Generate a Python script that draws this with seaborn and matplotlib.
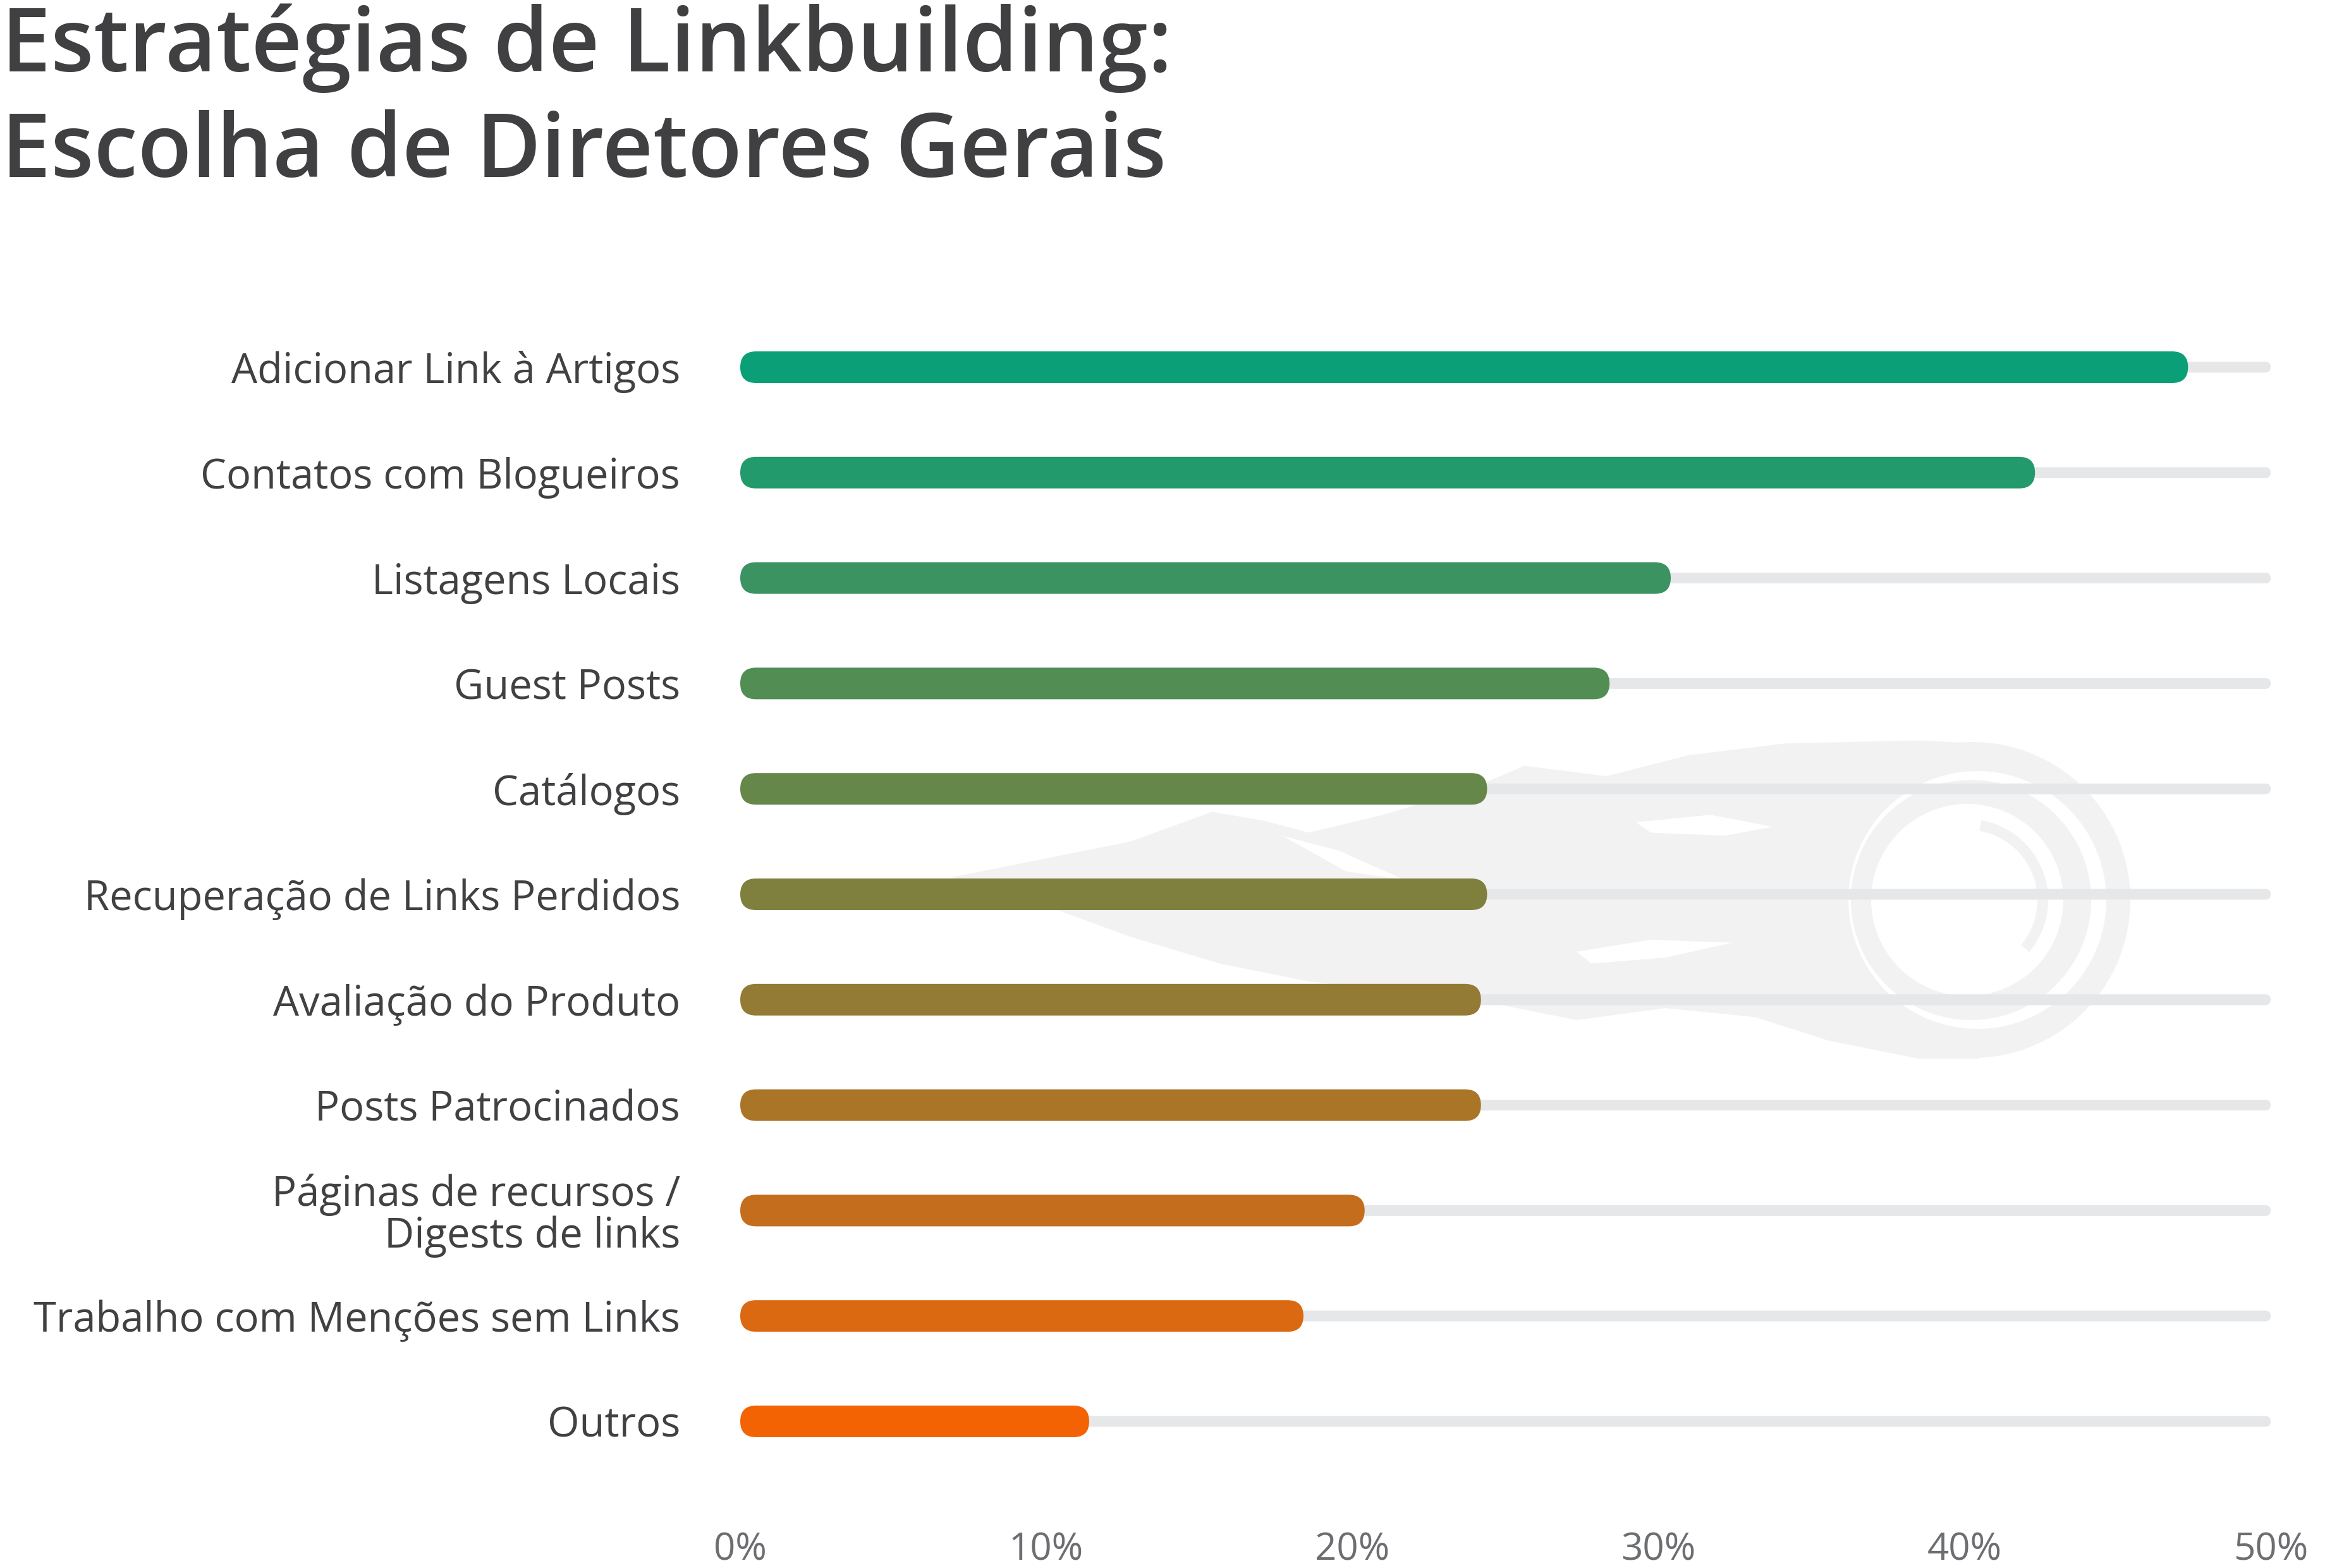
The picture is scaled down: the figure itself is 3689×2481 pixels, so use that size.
import matplotlib
matplotlib.use("Agg")
import matplotlib.pyplot as plt
import seaborn as sns
import numpy as np
from matplotlib.patches import FancyBboxPatch, Circle, Wedge, Polygon

# ---------------- data ----------------
categories = [
    "Adicionar Link à Artigos",
    "Contatos com Blogueiros",
    "Listagens Locais",
    "Guest Posts",
    "Catálogos",
    "Recuperação de Links Perdidos",
    "Avaliação do Produto",
    "Posts Patrocinados",
    "Páginas de recursos /\nDigests de links",
    "Trabalho com Menções sem Links",
    "Outros",
]
values = [47.3, 42.3, 30.4, 28.4, 24.4, 24.4, 24.2, 24.2, 20.4, 18.4, 11.4]
track = [50] * len(categories)
bar_colors = ["#0a9f77", "#229a6b", "#3a9361", "#528d54", "#66874a", "#7f803e",
              "#947b35", "#ab7528", "#c46e1d", "#db6911", "#f46303"]
xticks = [0, 10, 20, 30, 40, 50]
xtick_labels = ["0%", "10%", "20%", "30%", "40%", "50%"]
title_lines = ["Estratégias de Linkbuilding:", "Escolha de Diretores Gerais"]

# ---------------- layout (pixels) ----------------
W, H = 3689, 2481
DPI = 72
sns.set_theme(style="white")
plt.rcParams["font.family"] = ["Open Sans", "DejaVu Sans"]

fig = plt.figure(figsize=(W / DPI, H / DPI), dpi=DPI)
fig.patch.set_facecolor("white")

x0_px, x1_px = 1171, 3592
row0_px, row_step = 581, 166.8
n = len(categories)
top_px = row0_px - row_step / 2
bot_px = row0_px + row_step * (n - 1) + row_step / 2

# background watermark axes (pixel coordinates)
bg = fig.add_axes([0, 0, 1, 1], zorder=0)
bg.set_xlim(0, W)
bg.set_ylim(H, 0)
bg.axis("off")
wm = "#f2f2f2"
s = 2.3527
flame = [(640, 590), (700, 578), (760, 566), (815, 546), (850, 552), (880, 560),
         (930, 548), (990, 530), (1025, 515), (1080, 522), (1135, 508), (1200, 500),
         (1290, 498), (1330, 500), (1330, 712), (1290, 712), (1230, 700), (1180, 684),
         (1120, 678), (1060, 686), (1010, 676), (950, 668), (880, 660), (820, 648),
         (760, 630), (700, 608)]
bg.add_patch(Polygon([(x * s, y * s) for x, y in flame], closed=True, fc=wm, ec="none"))
cuts = [
    [(1100, 553), (1150, 548), (1192, 556), (1160, 562), (1110, 560)],
    [(1060, 640), (1110, 632), (1165, 634), (1120, 644), (1070, 648)],
    [(862, 562), (900, 572), (945, 592), (905, 586)],
]
for c in cuts:
    bg.add_patch(Polygon([(x * s, y * s) for x, y in c], closed=True, fc="white", ec="none"))
cx, cy = 3120, 1424
bg.add_patch(Circle((cx, cy), 250, fc=wm, ec="none"))
bg.add_patch(Circle((cx + 8, cy), 204, fc="white", ec="none"))
bg.add_patch(Circle((cx - 2, cy), 190, fc=wm, ec="none"))
bg.add_patch(Circle((cx - 8, cy), 152, fc="white", ec="none"))
bg.add_patch(Wedge((cx - 8, cy), 128, -80, 40, width=17, fc=wm, ec="none"))

# main axes
ax = fig.add_axes([x0_px / W, (H - bot_px) / H, (x1_px - x0_px) / W, (bot_px - top_px) / H],
                  zorder=1)
ax.set_facecolor("none")

px_x = (x1_px - x0_px) / 50.0   # px per data unit in x
px_y = row_step                  # px per category unit in y
track_h, bar_h = 17, 50

sns.barplot(x=track, y=categories, order=categories, orient="h", color="#e6e7e8",
            saturation=1, width=track_h / px_y, ax=ax, errorbar=None)
sns.barplot(x=values, y=categories, order=categories, hue=categories, hue_order=categories,
            palette=bar_colors, orient="h", saturation=1, width=bar_h / px_y, ax=ax,
            legend=False, errorbar=None, dodge=False)

aspect = px_x / px_y
for p in list(ax.patches):
    x, y, w, h = p.get_x(), p.get_y(), p.get_width(), p.get_height()
    fc = p.get_facecolor()
    z = p.get_zorder()
    p.remove()
    r = (h * px_y / 2) / px_x
    fp = FancyBboxPatch((x, y), w, h, boxstyle=f"round,pad=0,rounding_size={r}",
                        mutation_aspect=aspect, fc=fc, ec="none", clip_on=False, zorder=z)
    ax.add_patch(fp)

ax.set_xlim(0, 50)
ax.set_ylim(n - 0.5, -0.5)
for sp in ax.spines.values():
    sp.set_visible(False)
ax.set_xlabel("")
ax.set_ylabel("")
ax.set_xticks(xticks)
ax.set_xticklabels(xtick_labels)
ax.set_yticks(range(n))
ax.set_yticklabels(categories)
ax.tick_params(axis="x", length=0, pad=90, labelsize=60, labelcolor="#6d6e71")
ax.tick_params(axis="y", length=0, pad=95, labelsize=65, labelcolor="#414042")
for lab in ax.get_yticklabels():
    lab.set_linespacing(1.0)
ax.grid(False)

# title
for i, t in enumerate(title_lines):
    fig.text(2 / W, 1 - (113 + 167 * i) / H, t, fontsize=140, fontweight="semibold",
             color="#404042", ha="left", va="baseline")

fig.savefig("out.png", dpi=DPI, facecolor="white")
